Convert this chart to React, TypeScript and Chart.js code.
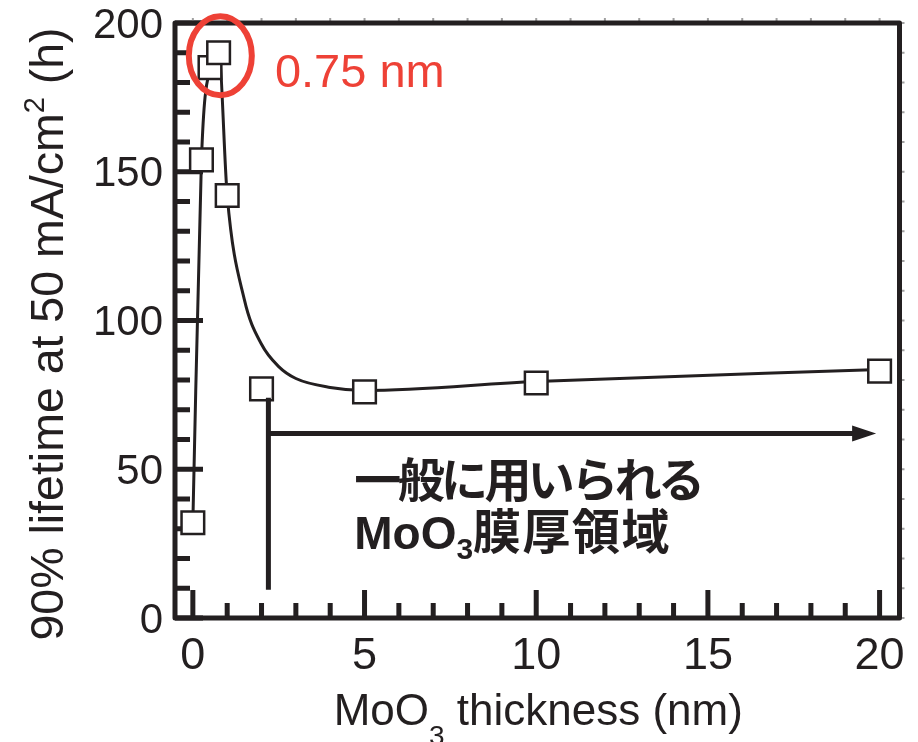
import React, { useEffect, useRef } from "react";
import { Chart, registerables } from "chart.js";

Chart.register(...registerables);

// Measured 90% lifetime versus MoO3 layer thickness
const thicknessNm = [0, 0.25, 0.5, 0.75, 1, 2, 5, 10, 20];
const lifetimeH = [32, 154, 185, 190, 142, 77, 76, 79, 83];

// Hand-drawn trend curve (guide to the eye)
const trendNm = [0, 0.25, 0.5, 0.75, 1, 1.5, 2, 2.5, 3, 4, 5, 10, 20];
const trendH = [32, 154, 185, 190, 142, 107, 92, 84.5, 80.5, 77.5, 76.5, 79.5, 83.5];

// Axis tick labels
const xTickLabels = [0, 5, 10, 15, 20];
const yTickLabels = [0, 50, 100, 150, 200];

// Callout for the optimum thickness
const optimumLabel = "0.75 nm";
const ringCenter = { x: 0.8, y: 189 };
const optimumTextAt = { x: 2.39, y: 178.5 };

// Bracket marking the commonly used thickness range
const rangeStartNm = 2.2;
const rangeEndNm = 19.9;
const rangeArrowH = 62;
const rangeStemTopH = 74;
const rangeStemBottomH = 9.5;
const rangeTextAt = { x: 4.7, line1: 40.8, line2: 23.2 };

const INK = "#231f20";
const RED = "#ee4136";
const SANS = '"Liberation Sans", Arial, Helvetica, sans-serif';
const JP = '"Noto Sans CJK JP", "Noto Sans CJK SC", sans-serif';

type Run = { text: string; font: string; dy?: number; spacing?: number };

function runsWidth(ctx: CanvasRenderingContext2D, runs: Run[]) {
  let w = 0;
  for (const r of runs) {
    ctx.font = r.font;
    (ctx as any).letterSpacing = `${r.spacing ?? 0}px`;
    w += ctx.measureText(r.text).width;
  }
  (ctx as any).letterSpacing = "0px";
  return w;
}

function drawRuns(ctx: CanvasRenderingContext2D, runs: Run[], x: number, y: number) {
  let cx = x;
  for (const r of runs) {
    ctx.font = r.font;
    (ctx as any).letterSpacing = `${r.spacing ?? 0}px`;
    ctx.fillText(r.text, cx, y + (r.dy ?? 0));
    cx += ctx.measureText(r.text).width;
  }
  (ctx as any).letterSpacing = "0px";
}

// Box frame with inward tick marks, drawn underneath the data
const framePlugin = {
  id: "frame",
  beforeDatasetsDraw(chart: any) {
    const { ctx, chartArea: a } = chart;
    const xs = chart.scales.x;
    const ys = chart.scales.y;
    ctx.save();
    ctx.strokeStyle = INK;
    ctx.lineWidth = 5;
    ctx.lineCap = "butt";
    ctx.beginPath();
    for (let v = 0; v <= 20; v += 1) {
      const px = xs.getPixelForValue(v);
      const len = v % 5 === 0 ? 28 : 15;
      ctx.moveTo(px, a.bottom);
      ctx.lineTo(px, a.bottom - len);
    }
    for (let v = 0; v <= 200; v += 10) {
      const py = ys.getPixelForValue(v);
      const len = v % 50 === 0 ? 28 : 15;
      ctx.moveTo(a.left, py);
      ctx.lineTo(a.left + len, py);
    }
    ctx.stroke();

    // faint outer ticks on the top and right edges
    ctx.strokeStyle = "#a0a0a0";
    ctx.lineWidth = 2;
    ctx.beginPath();
    for (let v = 0; v <= 20; v += 1) {
      const px = xs.getPixelForValue(v);
      ctx.moveTo(px, a.top - 2);
      ctx.lineTo(px, a.top - 5);
    }
    for (let v = 0; v <= 200; v += 10) {
      const py = ys.getPixelForValue(v);
      ctx.moveTo(a.right + 2, py);
      ctx.lineTo(a.right + 5, py);
    }
    ctx.stroke();

    ctx.strokeStyle = INK;
    ctx.lineWidth = 5;
    ctx.lineJoin = "round";
    ctx.strokeRect(a.left, a.top, a.right - a.left, a.bottom - a.top);
    ctx.restore();
  },
};

// Callouts, range bracket and axis titles
const annotationPlugin = {
  id: "annotations",
  afterDatasetsDraw(chart: any) {
    const { ctx, chartArea: a } = chart;
    const xs = chart.scales.x;
    const ys = chart.scales.y;
    const X = (v: number) => xs.getPixelForValue(v);
    const Y = (v: number) => ys.getPixelForValue(v);
    ctx.save();

    // red ring around the optimum
    ctx.strokeStyle = RED;
    ctx.lineWidth = 6;
    ctx.beginPath();
    ctx.ellipse(X(ringCenter.x), Y(ringCenter.y), 31.5, 39.5, 0, 0, Math.PI * 2);
    ctx.stroke();

    ctx.fillStyle = RED;
    ctx.textBaseline = "alphabetic";
    ctx.textAlign = "left";
    ctx.font = `47px ${SANS}`;
    ctx.fillText(optimumLabel, X(optimumTextAt.x), Y(optimumTextAt.y));

    // range bracket: stem and arrow
    ctx.strokeStyle = INK;
    ctx.fillStyle = INK;
    ctx.lineWidth = 5;
    ctx.beginPath();
    ctx.moveTo(X(rangeStartNm), Y(rangeStemTopH));
    ctx.lineTo(X(rangeStartNm), Y(rangeStemBottomH));
    const tip = X(rangeEndNm);
    const ay = Y(rangeArrowH);
    ctx.moveTo(X(rangeStartNm), ay);
    ctx.lineTo(tip - 18, ay);
    ctx.stroke();
    ctx.beginPath();
    ctx.moveTo(tip, ay);
    ctx.lineTo(tip - 24, ay - 8);
    ctx.lineTo(tip - 24, ay + 8);
    ctx.closePath();
    ctx.fill();

    // range caption
    const tx = X(rangeTextAt.x);
    drawRuns(ctx, [{ text: "一般に用いられる", font: `bold 47px ${JP}`, spacing: -3.6 }], tx, Y(rangeTextAt.line1));
    drawRuns(
      ctx,
      [
        { text: "MoO", font: `bold 46px ${SANS}` },
        { text: "3", font: `bold 30px ${SANS}`, dy: 10 },
        { text: "膜厚領域", font: `bold 48px ${JP}`, spacing: 1.5 },
      ],
      tx,
      Y(rangeTextAt.line2)
    );

    // x-axis title
    const xRuns: Run[] = [
      { text: "MoO", font: `44px ${SANS}` },
      { text: "3", font: `28px ${SANS}`, dy: 20 },
      { text: " thickness (nm)", font: `44px ${SANS}` },
    ];
    const xw = runsWidth(ctx, xRuns);
    drawRuns(ctx, xRuns, (a.left + a.right) / 2 - xw / 2 + 1, 725);

    // y-axis title
    const yRuns: Run[] = [
      { text: "90% lifetime at 50 mA/cm", font: `46.5px ${SANS}` },
      { text: "2", font: `29px ${SANS}`, dy: -19 },
      { text: " (h)", font: `46.5px ${SANS}` },
    ];
    const yw = runsWidth(ctx, yRuns);
    ctx.translate(63, 334);
    ctx.rotate(-Math.PI / 2);
    drawRuns(ctx, yRuns, -yw / 2, 0);

    ctx.restore();
  },
};

export default function App() {
  const ref = useRef<HTMLCanvasElement>(null);

  useEffect(() => {
    const canvas = ref.current;
    if (!canvas) return;
    const chart = new Chart(canvas, {
      type: "scatter",
      data: {
        datasets: [
          {
            label: "lifetime",
            data: thicknessNm.map((x, i) => ({ x, y: lifetimeH[i] })),
            showLine: false,
            pointStyle: "rect",
            pointRadius: 16,
            pointBackgroundColor: "#ffffff",
            pointBorderColor: INK,
            pointBorderWidth: 2.5,
            clip: false,
          },
          {
            label: "trend",
            data: trendNm.map((x, i) => ({ x, y: trendH[i] })),
            showLine: true,
            pointRadius: 0,
            borderColor: INK,
            borderWidth: 3,
            cubicInterpolationMode: "monotone",
            clip: false,
          },
        ],
      },
      options: {
        animation: false,
        responsive: false,
        devicePixelRatio: 1,
        layout: { padding: { left: 0, top: 23, right: 18, bottom: 0 } },
        plugins: {
          legend: { display: false },
          tooltip: { enabled: false },
          title: { display: false },
        },
        scales: {
          x: {
            type: "linear",
            min: -0.52,
            max: 20.58,
            grid: { display: false, drawTicks: false },
            border: { display: false },
            afterBuildTicks: (s: any) => {
              s.ticks = xTickLabels.map((value) => ({ value }));
            },
            afterFit: (s: any) => {
              s.height = 742 - 618;
              s.paddingLeft = 0;
              s.paddingRight = 0;
            },
            ticks: {
              color: INK,
              font: { family: SANS, size: 45 },
              padding: 12,
              maxRotation: 0,
              autoSkip: false,
            },
          },
          y: {
            type: "linear",
            min: 0,
            max: 200,
            grid: { display: false, drawTicks: false },
            border: { display: false },
            afterBuildTicks: (s: any) => {
              s.ticks = yTickLabels.map((value) => ({ value }));
            },
            afterFit: (s: any) => {
              s.width = 175;
              s.paddingTop = 0;
              s.paddingBottom = 0;
            },
            ticks: {
              color: INK,
              font: { family: SANS, size: 42 },
              padding: 12,
              labelOffset: 3,
              autoSkip: false,
            },
          },
        },
      },
      plugins: [framePlugin, annotationPlugin],
    } as any);
    return () => chart.destroy();
  }, []);

  return (
    <div style={{ position: "fixed", left: 0, top: 0, width: 918, height: 742, background: "#ffffff" }}>
      <canvas ref={ref} width={918} height={742} style={{ display: "block" }} />
    </div>
  );
}
